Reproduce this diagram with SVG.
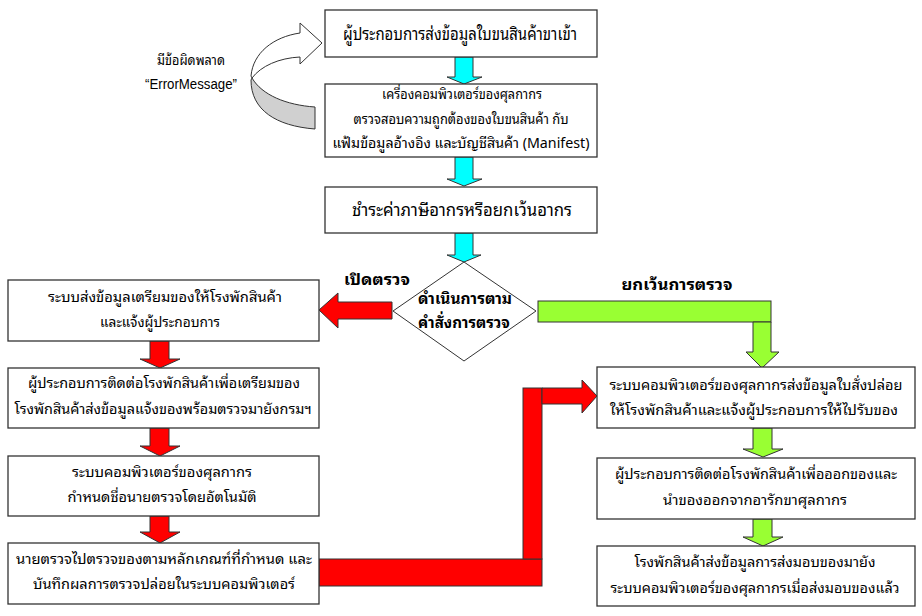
<svg xmlns="http://www.w3.org/2000/svg" width="922" height="616" viewBox="0 0 922 616">
<style>
.box{fill:#fff;stroke:#333;stroke-width:1.3}
.t{font-family:"Noto Sans Thai Looped","Loma","Tahoma","Noto Sans Thai","Garuda","Noto Sans","DejaVu Sans",sans-serif;font-size:14px;fill:#000;text-anchor:middle}
.big{font-size:17px}
.b{font-weight:bold;font-size:15px}
.cy{fill:#00ffff;stroke:#333;stroke-width:1}
.rd{fill:#ff0000;stroke:#333;stroke-width:1}
.gr{fill:#99ff33;stroke:#333;stroke-width:1}
</style>
<rect width="922" height="616" fill="#fff"/>

<g id="connectors">
  <!-- cyan arrows -->
  <polygon class="cy" points="455,57 473,57 473,77 482,77 464,84 447,77 455,77"/>
  <polygon class="cy" points="455,157 473,157 473,179 482,179 464,186 447,179 455,179"/>
  <polygon class="cy" points="455,233 473,233 473,255 481,255 464,262 447,255 455,255"/>
  <!-- red left arrow -->
  <polygon class="rd" points="392,302 392,319 338,319 338,328 319,310 338,293 338,302"/>
  <!-- red down arrows -->
  <polygon class="rd" points="150,341 169,341 169,359 180,359 160,368 140,359 150,359"/>
  <polygon class="rd" points="150,428 169,428 169,446 180,446 160,456 140,446 150,446"/>
  <polygon class="rd" points="150,516 169,516 169,532 180,532 160,543 140,532 150,532"/>
  <!-- red big connector -->
  <rect class="rd" x="319" y="559" width="223" height="27"/>
  <rect class="rd" x="523" y="388" width="19" height="171"/>
  <polygon class="rd" points="542,388 582,388 582,380 597,396 582,413 582,404 542,404"/>
  <!-- green connector -->
  <rect class="gr" x="538" y="301" width="233" height="21"/>
  <polygon class="gr" points="753,322 771,322 771,352 779,352 762,368 746,352 753,352"/>
  <!-- green down arrows -->
  <polygon class="gr" points="753,428 772,428 772,449 783,449 763,457 743,449 753,449"/>
  <polygon class="gr" points="753,519 772,519 772,537 783,537 763,546 743,537 753,537"/>
  <!-- curved error arrow -->
  <path d="M252,78 C262,95 286,105 315,107 L315,129 C276,126 251,110 251,80 Z" fill="#d0d0d0" stroke="#333" stroke-width="1"/>
  <path d="M300,33 L300,23 L322,43 L300,64 L300,57 C279,58 261,66 252,78 L251,76 C253,53 273,37 300,33 Z" fill="#fff" stroke="#333" stroke-width="1"/>
</g>

<g id="label-error">
  <text class="t" x="191" y="65" font-size="13" textLength="68" lengthAdjust="spacingAndGlyphs">มีข้อผิดพลาด</text>
  <text class="t" x="191" y="89" font-size="12" style="font-family:'Liberation Sans',sans-serif" textLength="92" lengthAdjust="spacingAndGlyphs">“ErrorMessage”</text>
</g>

<g id="n1">
  <rect class="box" x="325" y="10" width="272" height="47"/>
  <text class="t big" x="460" y="40" textLength="234" lengthAdjust="spacingAndGlyphs">ผู้ประกอบการส่งข้อมูลใบขนสินค้าขาเข้า</text>
</g>
<g id="n2">
  <rect class="box" x="325" y="84" width="272" height="73"/>
  <text class="t" x="462" y="99" textLength="160" lengthAdjust="spacingAndGlyphs">เครื่องคอมพิวเตอร์ของศุลกากร</text>
  <text class="t" x="461" y="124" textLength="215" lengthAdjust="spacingAndGlyphs">ตรวจสอบความถูกต้องของใบขนสินค้า กับ</text>
  <text class="t" x="461" y="148" textLength="257" lengthAdjust="spacingAndGlyphs">แฟ้มข้อมูลอ้างอิง และบัญชีสินค้า (Manifest)</text>
</g>
<g id="n3">
  <rect class="box" x="325" y="187" width="272" height="46"/>
  <text class="t big" x="462" y="216" textLength="220" lengthAdjust="spacingAndGlyphs">ชำระค่าภาษีอากรหรือยกเว้นอากร</text>
</g>
<g id="decision">
  <polygon points="464,262 536,311 464,361 393,311" fill="#fff" stroke="#333" stroke-width="1"/>
  <text class="t b" x="465" y="304" font-size="14" textLength="94" lengthAdjust="spacingAndGlyphs">ดำเนินการตาม</text>
  <text class="t b" x="464" y="328" font-size="14" textLength="92" lengthAdjust="spacingAndGlyphs">คำสั่งการตรวจ</text>
</g>
<g id="label-open">
  <text class="t b" x="377" y="285" textLength="66" lengthAdjust="spacingAndGlyphs">เปิดตรวจ</text>
</g>
<g id="label-exempt">
  <text class="t b" x="677" y="290" textLength="111" lengthAdjust="spacingAndGlyphs">ยกเว้นการตรวจ</text>
</g>

<g id="l1">
  <rect class="box" x="8" y="280" width="311" height="61"/>
  <text class="t" x="165" y="302" textLength="234" lengthAdjust="spacingAndGlyphs">ระบบส่งข้อมูลเตรียมของให้โรงพักสินค้า</text>
  <text class="t" x="160" y="327" textLength="120" lengthAdjust="spacingAndGlyphs">และแจ้งผู้ประกอบการ</text>
</g>
<g id="l2">
  <rect class="box" x="8" y="368" width="311" height="60"/>
  <text class="t" x="164" y="388" textLength="272" lengthAdjust="spacingAndGlyphs">ผู้ประกอบการติดต่อโรงพักสินค้าเพื่อเตรียมของ</text>
  <text class="t" x="163" y="414" textLength="297" lengthAdjust="spacingAndGlyphs">โรงพักสินค้าส่งข้อมูลแจ้งของพร้อมตรวจมายังกรมฯ</text>
</g>
<g id="l3">
  <rect class="box" x="8" y="456" width="311" height="60"/>
  <text class="t" x="162" y="477" textLength="180" lengthAdjust="spacingAndGlyphs">ระบบคอมพิวเตอร์ของศุลกากร</text>
  <text class="t" x="162" y="502" textLength="189" lengthAdjust="spacingAndGlyphs">กำหนดชื่อนายตรวจโดยอัตโนมัติ</text>
</g>
<g id="l4">
  <rect class="box" x="8" y="543" width="311" height="61"/>
  <text class="t" x="164" y="564" textLength="296" lengthAdjust="spacingAndGlyphs">นายตรวจไปตรวจของตามหลักเกณฑ์ที่กำหนด และ</text>
  <text class="t" x="164" y="589" textLength="262" lengthAdjust="spacingAndGlyphs">บันทึกผลการตรวจปล่อยในระบบคอมพิวเตอร์</text>
</g>

<g id="r1">
  <rect class="box" x="597" y="367" width="318" height="61"/>
  <text class="t" x="756" y="390" textLength="293" lengthAdjust="spacingAndGlyphs">ระบบคอมพิวเตอร์ของศุลกากรส่งข้อมูลใบสั่งปล่อย</text>
  <text class="t" x="754" y="415" textLength="288" lengthAdjust="spacingAndGlyphs">ให้โรงพักสินค้าและแจ้งผู้ประกอบการให้ไปรับของ</text>
</g>
<g id="r2">
  <rect class="box" x="597" y="458" width="318" height="61"/>
  <text class="t" x="756" y="479" textLength="282" lengthAdjust="spacingAndGlyphs">ผู้ประกอบการติดต่อโรงพักสินค้าเพื่อออกของและ</text>
  <text class="t" x="755" y="505" textLength="184" lengthAdjust="spacingAndGlyphs">นำของออกจากอารักขาศุลกากร</text>
</g>
<g id="r3">
  <rect class="box" x="597" y="546" width="318" height="60"/>
  <text class="t" x="755" y="567" textLength="241" lengthAdjust="spacingAndGlyphs">โรงพักสินค้าส่งข้อมูลการส่งมอบของมายัง</text>
  <text class="t" x="755" y="593" textLength="289" lengthAdjust="spacingAndGlyphs">ระบบคอมพิวเตอร์ของศุลกากรเมื่อส่งมอบของแล้ว</text>
</g>
</svg>
